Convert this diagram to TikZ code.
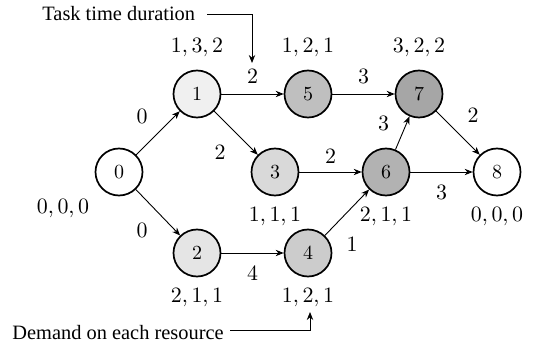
\documentclass[tikz,border=0pt]{standalone}
\usepackage{fontspec}
\newfontfamily\notefont{Liberation Serif}
\usetikzlibrary{arrows.meta,calc}
\begin{document}
\begin{tikzpicture}[x=0.5pt,y=-0.5pt,
  task/.style={circle,draw,line width=0.85pt,minimum size=23.5pt,inner sep=0pt,
    font=\fontsize{10}{12}\selectfont},
  arc/.style={-{Stealth[length=4pt,width=3.2pt]},line width=0.45pt},
  w/.style={font=\fontsize{10.5}{12}\selectfont,inner sep=0pt},
  dem/.style={font=\fontsize{10.5}{12}\selectfont,inner sep=0pt},
  note/.style={font=\notefont\fontsize{10.2}{12}\selectfont,inner sep=0pt}]
\useasboundingbox (0,0) rectangle (535,347);

% activities
\node[task,fill=white]    (n0) at (119,172) {0};
\node[task,fill=black!6]  (n1) at (197,94)  {1};
\node[task,fill=black!10] (n2) at (197,253) {2};
\node[task,fill=black!15] (n3) at (275,172) {3};
\node[task,fill=black!20] (n4) at (308,253) {4};
\node[task,fill=black!25] (n5) at (308,94)  {5};
\node[task,fill=black!30] (n6) at (386,172) {6};
\node[task,fill=black!35] (n7) at (419,94)  {7};
\node[task,fill=white]    (n8) at (497,172) {8};

% resource demands
\node[dem] (d0) at ($(n0)+(-56,37)$) {$0,0,0$};
\node[dem] (d1) at ($(n1)+(0,-46)$) {$1,3,2$};
\node[dem] (d2) at ($(n2)+(0,45)$)  {$2,1,1$};
\node[dem] (d3) at ($(n3)+(0,45)$)  {$1,1,1$};
\node[dem] (d4) at ($(n4)+(0,45)$)  {$1,2,1$};
\node[dem] (d5) at ($(n5)+(0,-46)$) {$1,2,1$};
\node[dem] (d6) at ($(n6)+(0,45)$)  {$2,1,1$};
\node[dem] (d7) at ($(n7)+(0,-46)$) {$3,2,2$};
\node[dem] (d8) at ($(n8)+(0,45)$)  {$0,0,0$};

% precedence arcs with durations
\draw[arc] (n0) -- (n1) node[w,midway,shift={(-16,-17)}] (t01) {$0$};
\draw[arc] (n0) -- (n2) node[w,midway,shift={(-16,18)}]  (t02) {$0$};
\draw[arc] (n1) -- (n5) node[w,midway,shift={(0,-18)}]   (t15) {$2$};
\draw[arc] (n1) -- (n3) node[w,midway,shift={(-16,19)}]  (t13) {$2$};
\draw[arc] (n2) -- (n4) node[w,midway,shift={(0,20)}]    (t24) {$4$};
\draw[arc] (n3) -- (n6) node[w,midway,shift={(0,-16)}]   (t36) {$2$};
\draw[arc] (n4) -- (n6) node[w,midway,shift={(5,32)}]    (t46) {$1$};
\draw[arc] (n5) -- (n7) node[w,midway,shift={(0,-18)}]   (t57) {$3$};
\draw[arc] (n6) -- (n7) node[w,midway,shift={(-19,-10)}] (t67) {$3$};
\draw[arc] (n6) -- (n8) node[w,midway,shift={(0,20)}]    (t68) {$3$};
\draw[arc] (n7) -- (n8) node[w,midway,shift={(15,-18)}]  (t78) {$2$};

% annotations
\node[note,anchor=west] (tt) at (42,14) {Task time duration};
\coordinate (tttip) at (252,63);
\draw[arc] ([xshift=6pt]tt.east) -| (tttip);

\node[note,anchor=west] (dr) at (12,333) {Demand on each resource};
\coordinate (drtip) at (310,312);
\draw[arc] ([xshift=3pt,yshift=1.5pt]dr.east) -| (drtip);
\end{tikzpicture}
\end{document}
